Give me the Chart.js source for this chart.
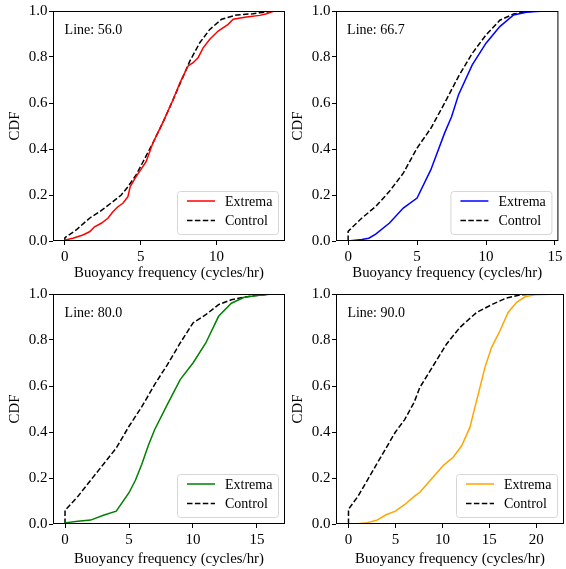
<!DOCTYPE html>
<html>
<head>
<meta charset="utf-8">
<script src="https://cdn.jsdelivr.net/npm/chart.js@4/dist/chart.umd.min.js"></script>
<style>
  body { margin: 0; background: #fff; }
  #wrap { position: relative; width: 566px; height: 569px; }
  canvas { position: absolute; }
</style>
</head>
<body>
<div id="wrap">
  <canvas id="p56" width="290" height="283" style="left:0px;top:0px"></canvas>
  <canvas id="p67" width="283" height="283" style="left:283px;top:0px"></canvas>
  <canvas id="p80" width="290" height="286" style="left:0px;top:283px"></canvas>
  <canvas id="p90" width="283" height="286" style="left:283px;top:283px"></canvas>
</div>
<script>
// CDF of buoyancy frequency (cycles/hr), extrema vs control, one panel per line

// Line 56.0
const ext56X = [0, 0, 0.53, 1.19, 1.63, 1.96, 2.4, 2.84, 3.17, 3.5, 3.83, 4.16, 4.31, 4.7, 5.36, 5.8, 6.5, 7.15, 7.59, 8.13, 8.46, 8.79, 9.12, 9.56, 10.11, 10.77, 11.1, 11.98, 12.86, 13.3, 13.8];
const ext56Y = [0, 0.004, 0.012, 0.026, 0.04, 0.062, 0.077, 0.099, 0.127, 0.149, 0.164, 0.193, 0.236, 0.28, 0.345, 0.425, 0.52, 0.616, 0.688, 0.761, 0.775, 0.797, 0.84, 0.877, 0.913, 0.942, 0.964, 0.974, 0.981, 0.988, 1.0];
const ctl56X = [0, 0, 0.75, 1.63, 2.29, 3.17, 3.72, 4.16, 4.7, 5.8, 6.5, 7.15, 8.25, 8.9, 9.56, 10.34, 11.33, 12.42, 12.86, 13.8];
const ctl56Y = [0, 0.014, 0.048, 0.099, 0.127, 0.171, 0.2, 0.236, 0.287, 0.425, 0.52, 0.616, 0.783, 0.862, 0.92, 0.964, 0.983, 0.988, 0.992, 1.0];

// Line 66.7
const ext67X = [0, 1, 1.5, 2, 3, 4, 5, 6, 7, 7.5, 8, 9, 10, 11, 12, 13, 14, 14.8];
const ext67Y = [0, 0.007, 0.012, 0.03, 0.078, 0.143, 0.187, 0.31, 0.47, 0.54, 0.635, 0.766, 0.86, 0.932, 0.983, 0.996, 0.999, 1.0];
const ctl67X = [0, 0, 1, 2, 3, 4, 5, 6, 7, 8, 9, 10, 11, 12, 13, 14];
const ctl67Y = [0, 0.042, 0.1, 0.15, 0.216, 0.295, 0.404, 0.49, 0.6, 0.715, 0.816, 0.896, 0.96, 0.987, 0.997, 1.0];

// Line 80.0
const ext80X = [0, 0, 1, 2, 3, 4, 5, 5.5, 6, 6.5, 7, 8, 9, 10, 11, 12, 13, 14, 15, 16, 16.3];
const ext80Y = [0, 0.005, 0.012, 0.017, 0.038, 0.056, 0.136, 0.19, 0.26, 0.34, 0.41, 0.52, 0.628, 0.7, 0.787, 0.903, 0.96, 0.986, 0.993, 0.999, 1.0];
const ctl80X = [0, 0, 1, 2, 3, 4, 5, 6, 7, 8, 9, 10, 11, 12, 13, 14, 15, 16, 16.3];
const ctl80Y = [0, 0.059, 0.12, 0.19, 0.26, 0.33, 0.425, 0.51, 0.606, 0.693, 0.787, 0.874, 0.91, 0.954, 0.975, 0.986, 0.994, 0.999, 1.0];

// Line 90.0
const ext90X = [0, 1, 2, 3, 4, 5, 6, 7, 7.6, 8.67, 10.09, 11.15, 12.05, 12.93, 13.46, 14.0, 14.53, 15.24, 16.13, 17.0, 17.9, 18.8, 19.86, 22.3];
const ext90Y = [0, 0.001, 0.006, 0.016, 0.04, 0.056, 0.085, 0.12, 0.138, 0.188, 0.254, 0.29, 0.34, 0.42, 0.507, 0.594, 0.681, 0.768, 0.84, 0.92, 0.964, 0.988, 0.997, 1.0];
const ctl90X = [0, 0, 1, 2, 3, 4, 5, 6, 7, 7.6, 9.02, 10.45, 11.87, 13.65, 15.42, 16.84, 18.26, 19.7];
const ctl90Y = [0, 0.064, 0.12, 0.19, 0.26, 0.33, 0.4, 0.455, 0.53, 0.594, 0.688, 0.783, 0.855, 0.92, 0.957, 0.983, 0.996, 1.0];

const yTicks = [0, 0.2, 0.4, 0.6, 0.8, 1.0];
const seriesLabels = ['Extrema', 'Control'];

const FONT = "'Liberation Serif', 'Times New Roman', serif";

const toPoints = (xs, ys) => xs.map((x, i) => ({ x: x, y: ys[i] }));

// matplotlib-style box, "Line: N" tag and legend in the lower right
const axesDecor = {
  id: 'axesDecor',
  afterDatasetsDraw(chart, args, opts) {
    const { ctx, chartArea: a } = chart;
    const w = a.right - a.left, h = a.bottom - a.top;
    ctx.save();

    ctx.strokeStyle = '#000';
    ctx.lineWidth = 1;
    ctx.strokeRect(a.left + 0.5, a.top + 0.5, w - 1, h - 1);

    ctx.fillStyle = '#000';
    ctx.font = '14px ' + FONT;
    ctx.textAlign = 'left';
    ctx.textBaseline = 'alphabetic';
    ctx.fillText(opts.tag, a.left + 0.05 * w, a.top + 0.1 * h);

    // legend
    const bw = 101, bh = 43;
    const bx = a.right - 7 - bw, by = a.bottom - 7 - bh;
    ctx.beginPath();
    ctx.roundRect(bx + 0.5, by + 0.5, bw, bh, 3);
    ctx.fillStyle = 'rgba(255,255,255,0.8)';
    ctx.fill();
    ctx.strokeStyle = '#d6d6d6';
    ctx.stroke();

    chart.data.datasets.forEach((ds, i) => {
      const ly = by + 10 + i * 19.5;
      ctx.beginPath();
      ctx.setLineDash(ds.borderDash || []);
      ctx.strokeStyle = ds.borderColor;
      ctx.lineWidth = ds.borderWidth;
      ctx.moveTo(bx + 10, ly);
      ctx.lineTo(bx + 38, ly);
      ctx.stroke();
      ctx.setLineDash([]);
      ctx.fillStyle = '#000';
      ctx.textBaseline = 'middle';
      ctx.fillText(ds.label, bx + 48, ly + 1);
    });
    ctx.restore();
  }
};

function makePanel(id, tag, color, extX, extY, ctlX, ctlY, xMin, xMax, xTicks, padRight, xHeight) {
  new Chart(document.getElementById(id), {
    type: 'line',
    data: {
      datasets: [
        {
          label: seriesLabels[0],
          data: toPoints(extX, extY),
          borderColor: color,
          borderWidth: 1.5,
          pointRadius: 0,
          tension: 0
        },
        {
          label: seriesLabels[1],
          data: toPoints(ctlX, ctlY),
          borderColor: '#000',
          borderWidth: 1.5,
          borderDash: [5.5, 2.4],
          pointRadius: 0,
          tension: 0
        }
      ]
    },
    plugins: [axesDecor],
    options: {
      responsive: false,
      animation: false,
      devicePixelRatio: 1,
      layout: { padding: { top: 11, right: padRight, left: 0, bottom: 0 } },
      plugins: {
        legend: { display: false },
        tooltip: { enabled: false },
        axesDecor: { tag: tag }
      },
      scales: {
        x: {
          type: 'linear',
          min: xMin,
          max: xMax,
          afterBuildTicks: s => { s.ticks = xTicks.map(v => ({ value: v })); },
          afterFit: s => { s.height = xHeight; },
          border: { display: false },
          grid: { drawOnChartArea: false, drawTicks: true, tickLength: 4, tickColor: '#000' },
          ticks: { color: '#000', padding: 3.5, font: { family: FONT, size: 15 }, maxRotation: 0 },
          title: {
            display: true,
            text: 'Buoyancy frequency (cycles/hr)',
            color: '#000',
            font: { family: FONT, size: 14.8 },
            padding: { top: 0, bottom: 1 }
          }
        },
        y: {
          min: 0,
          max: 1,
          afterBuildTicks: s => { s.ticks = yTicks.map(v => ({ value: v })); },
          afterFit: s => { s.width = 53; },
          border: { display: false },
          grid: { drawOnChartArea: false, drawTicks: true, tickLength: 4, tickColor: '#000' },
          ticks: {
            color: '#000',
            padding: 1.5,
            font: { family: FONT, size: 15 },
            callback: v => v.toFixed(1)
          },
          title: {
            display: true,
            text: 'CDF',
            color: '#000',
            font: { family: FONT, size: 14.8 },
            padding: { top: 6.5, bottom: 0 }
          }
        }
      }
    }
  });
}

makePanel('p56', 'Line: 56.0', '#ff0000', ext56X, ext56Y, ctl56X, ctl56Y, -0.78, 14.52, [0, 5, 10], 5, 42);
makePanel('p67', 'Line: 66.7', '#0000ff', ext67X, ext67Y, ctl67X, ctl67Y, -0.88, 15.25, [0, 5, 10, 15], 2, 42);
makePanel('p80', 'Line: 80.0', '#008000', ext80X, ext80Y, ctl80X, ctl80Y, -0.94, 17.19, [0, 5, 10, 15], 5, 45);
makePanel('p90', 'Line: 90.0', '#ffa500', ext90X, ext90Y, ctl90X, ctl90Y, -1.33, 22.95, [0, 5, 10, 15, 20], 2, 45);
</script>
</body>
</html>
